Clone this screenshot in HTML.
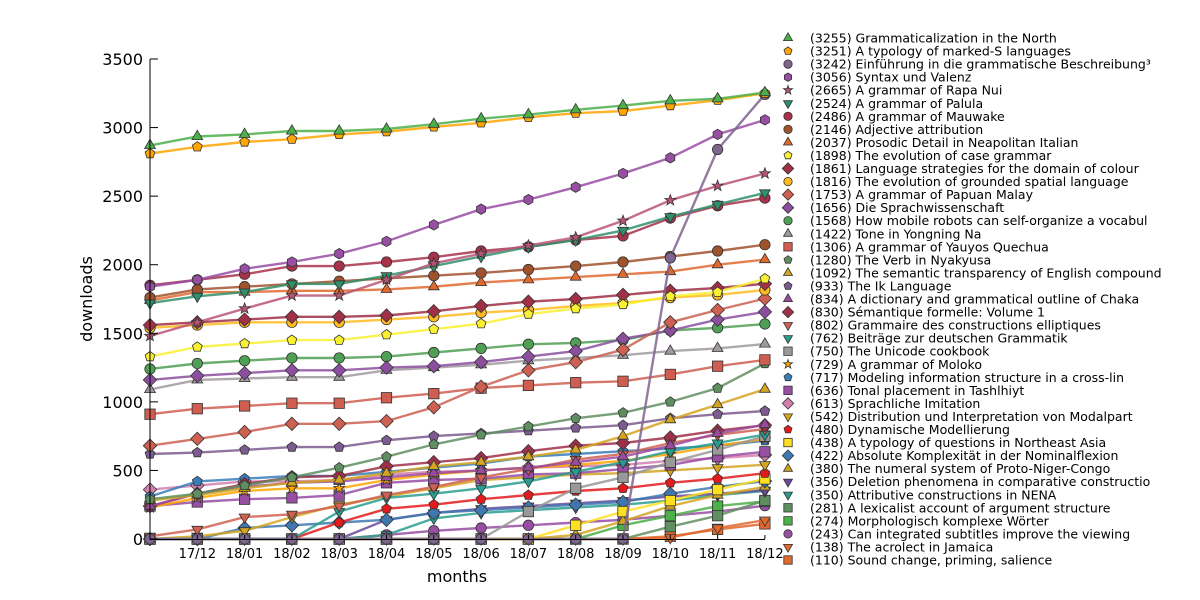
<!DOCTYPE html>
<html><head><meta charset="utf-8"><style>
body{margin:0;background:#fff;}
svg{display:block;font-family:"DejaVu Sans","Liberation Sans",sans-serif;}
</style></head><body>
<svg id="s" width="1200" height="600" xmlns="http://www.w3.org/2000/svg"></svg>
<script>
const S=[
["(3255) Grammaticalization in the North","#4daf4a","^",[2870,2935,2950,2975,2975,2990,3025,3065,3095,3130,3160,3195,3210,3255]],
["(3251) A typology of marked-S languages","#ffa500","p",[2810,2860,2895,2915,2950,2970,3005,3035,3075,3105,3120,3160,3200,3251]],
["(3242) Einführung in die grammatische Beschreibung³","#7f6490","o",[0,0,0,0,0,0,0,0,0,0,0,2050,2840,3242]],
["(3056) Syntax und Valenz","#984ea3","h",[1840,1890,1970,2020,2080,2170,2290,2405,2475,2565,2665,2780,2950,3056]],
["(2665) A grammar of Rapa Nui","#b85577","*",[1480,1580,1680,1775,1775,1890,2010,2080,2140,2200,2320,2470,2575,2665]],
["(2524) A grammar of Palula","#2f8f6a","v",[1720,1770,1800,1860,1860,1920,1990,2060,2130,2180,2250,2350,2440,2524]],
["(2486) A grammar of Mauwake","#a8324a","o",[1850,1890,1930,1990,1990,2020,2055,2100,2130,2180,2210,2340,2430,2486]],
["(2146) Adjective attribution","#a0522d","o",[1760,1820,1840,1860,1880,1900,1920,1940,1965,1990,2020,2060,2100,2146]],
["(2037) Prosodic Detail in Neapolitan Italian","#e0692f","^",[1740,1800,1800,1810,1810,1820,1840,1870,1890,1910,1930,1950,2000,2037]],
["(1898) The evolution of case grammar","#f8f030","p",[1330,1400,1425,1450,1450,1490,1530,1570,1640,1680,1710,1770,1800,1898]],
["(1861) Language strategies for the domain of colour","#a03045","D",[1560,1580,1600,1620,1620,1630,1660,1700,1730,1750,1780,1810,1830,1861]],
["(1816) The evolution of grounded spatial language","#ffbb20","o",[1540,1560,1580,1580,1580,1600,1620,1650,1670,1700,1720,1760,1780,1816]],
["(1753) A grammar of Papuan Malay","#cd6050","D",[680,730,780,840,840,860,960,1110,1230,1290,1380,1580,1670,1753]],
["(1656) Die Sprachwissenschaft","#8c4fa0","D",[1160,1190,1210,1230,1230,1250,1260,1290,1330,1370,1460,1520,1600,1656]],
["(1568) How mobile robots can self-organize a vocabul","#4f9f55","o",[1240,1280,1300,1320,1320,1330,1360,1390,1420,1430,1450,1520,1540,1568]],
["(1422) Tone in Yongning Na","#a09a9f","^",[1090,1160,1170,1180,1180,1230,1250,1270,1300,1320,1340,1370,1390,1422]],
["(1306) A grammar of Yauyos Quechua","#cf5e50","s",[910,950,970,990,990,1030,1060,1100,1120,1140,1150,1200,1260,1306]],
["(1280) The Verb in Nyakyusa","#5f8f60","p",[290,330,390,450,520,600,690,760,820,880,920,1000,1100,1280]],
["(1092) The semantic transparency of English compound","#d4a520","^",[280,320,370,410,430,480,530,560,600,650,750,870,980,1092]],
["(933) The Ik Language","#7d5a8f","p",[620,630,650,670,670,720,750,770,790,810,830,880,910,933]],
["(834) A dictionary and grammatical outline of Chaka","#9b4aa0","^",[240,330,380,410,420,450,480,500,520,560,600,680,770,834]],
["(830) Sémantique formelle: Volume 1","#a0304a","D",[240,330,400,450,460,530,560,590,640,680,700,740,790,830]],
["(802) Grammaire des constructions elliptiques","#d06050","v",[20,70,160,180,240,320,380,450,510,580,620,700,760,802]],
["(762) Beiträge zur deutschen Grammatik","#2a9d8f","v",[0,0,0,0,200,300,330,370,420,490,560,640,700,762]],
["(750) The Unicode cookbook","#999999","s",[0,0,0,0,0,0,0,0,200,370,450,560,650,750]],
["(729) A grammar of Moloko","#ffa500","*",[230,300,350,370,370,430,470,500,520,540,570,620,680,729]],
["(717) Modeling information structure in a cross-lin","#377eb8","p",[310,420,440,460,460,490,520,550,600,620,640,660,680,717]],
["(636) Tonal placement in Tashlhiyt","#984ea3","s",[240,270,290,300,320,410,430,440,470,480,510,540,600,636]],
["(613) Sprachliche Imitation","#d27fad","D",[360,390,420,420,430,470,490,500,520,530,540,570,590,613]],
["(542) Distribution und Interpretation von Modalpart","#d4a520","v",[0,20,60,160,250,310,370,430,450,470,480,500,520,542]],
["(480) Dynamische Modellierung","#e41a1c","p",[0,0,0,0,120,220,250,290,320,350,370,410,440,480]],
["(438) A typology of questions in Northeast Asia","#ffe020","s",[0,0,0,0,0,0,0,0,0,100,200,280,360,438]],
["(422) Absolute Komplexität in der Nominalflexion","#3f78b0","D",[0,0,80,100,120,140,190,210,230,250,270,330,380,422]],
["(380) The numeral system of Proto-Niger-Congo","#d4a520","^",[0,0,0,0,0,0,0,0,0,30,130,240,320,380]],
["(356) Deletion phenomena in comparative constructio","#6a4a9a","v",[0,0,0,0,0,140,190,220,240,260,280,310,330,356]],
["(350) Attributive constructions in NENA","#2a9d8f","v",[0,0,0,0,0,30,150,190,210,230,250,280,320,350]],
["(281) A lexicalist account of argument structure","#5f8f60","s",[0,0,0,0,0,0,0,0,0,0,0,90,170,281]],
["(274) Morphologisch komplexe Wörter","#4daf4a","s",[0,0,0,0,0,0,0,0,0,0,100,170,240,274]],
["(243) Can integrated subtitles improve the viewing","#984ea3","o",[0,0,0,0,0,30,60,80,100,120,140,170,200,243]],
["(138) The acrolect in Jamaica","#e0692f","v",[0,0,0,0,0,0,0,0,0,0,0,10,80,138]],
["(110) Sound change, priming, salience","#e0692f","s",[0,0,0,0,0,0,0,0,0,0,0,20,70,110]]
];
const X=i=>150+47.3*i, Y=v=>539-v*0.13714;
function mk(t,x,y,c,r){r=r||5.2;const st=`fill="${c}" stroke="#333" stroke-width="0.8"`;
 const poly=(n,rot,rr)=>{let p=[];for(let k=0;k<n;k++){let a=rot+k*2*Math.PI/n;p.push((x+rr*Math.cos(a)).toFixed(1)+","+(y+rr*Math.sin(a)).toFixed(1));}return `<polygon points="${p.join(" ")}" ${st}/>`;};
 switch(t){
 case "o":return `<circle cx="${x}" cy="${y}" r="${r}" ${st}/>`;
 case "^":return poly(3,-Math.PI/2,r+1);
 case "v":return poly(3,Math.PI/2,r+1);
 case "D":return poly(4,-Math.PI/2,r+1.5);
 case "s":return `<rect x="${x-r}" y="${y-r}" width="${2*r}" height="${2*r}" ${st}/>`;
 case "p":return poly(5,-Math.PI/2,r);
 case "h":return poly(6,-Math.PI/2,r);
 case "*":{let p=[];for(let k=0;k<10;k++){let a=-Math.PI/2+k*Math.PI/5,rr=k%2?r*0.45:r+0.5;p.push((x+rr*Math.cos(a)).toFixed(1)+","+(y+rr*Math.sin(a)).toFixed(1));}return `<polygon points="${p.join(" ")}" ${st}/>`;}
 }}
let h="";
for(let j=S.length-1;j>=0;j--){const s=S[j];
 h+=`<polyline fill="none" stroke="${s[1]}" stroke-width="2.4" stroke-opacity="0.85" points="${s[3].map((v,i)=>X(i).toFixed(1)+","+Y(v).toFixed(1)).join(" ")}"/>`;
 s[3].forEach((v,i)=>{h+=mk(s[2],X(i),Y(v),s[1]);});}
h+=`<line x1="150" y1="59" x2="150" y2="539.5" stroke="#000" stroke-width="1"/><line x1="150" y1="539.5" x2="765" y2="539.5" stroke="#000" stroke-width="1"/>`;
for(let v=0;v<=3500;v+=500){const y=Y(v);h+=`<line x1="150" y1="${y}" x2="158" y2="${y}" stroke="#000"/><text x="143" y="${y+6}" text-anchor="end" font-size="16">${v}</text>`;}
const mo=["17/12","18/01","18/02","18/03","18/04","18/05","18/06","18/07","18/08","18/09","18/10","18/11","18/12"];
mo.forEach((m,i)=>{const x=X(i+1);h+=`<line x1="${x}" y1="539" x2="${x}" y2="535" stroke="#000"/><text x="${x}" y="558" text-anchor="middle" font-size="13">${m}</text>`;});
h+=`<text x="457" y="582" text-anchor="middle" font-size="16">months</text>`;
h+=`<text transform="translate(92,299) rotate(-90)" text-anchor="middle" font-size="16">downloads</text>`;
S.forEach((s,j)=>{const y=38+j*13.05;h+=mk(s[2],788,y,s[1],4.2)+`<text x="810" y="${y+4.5}" font-size="12.5">${s[0]}</text>`;});
document.getElementById("s").innerHTML=h;
</script>
</body></html>
